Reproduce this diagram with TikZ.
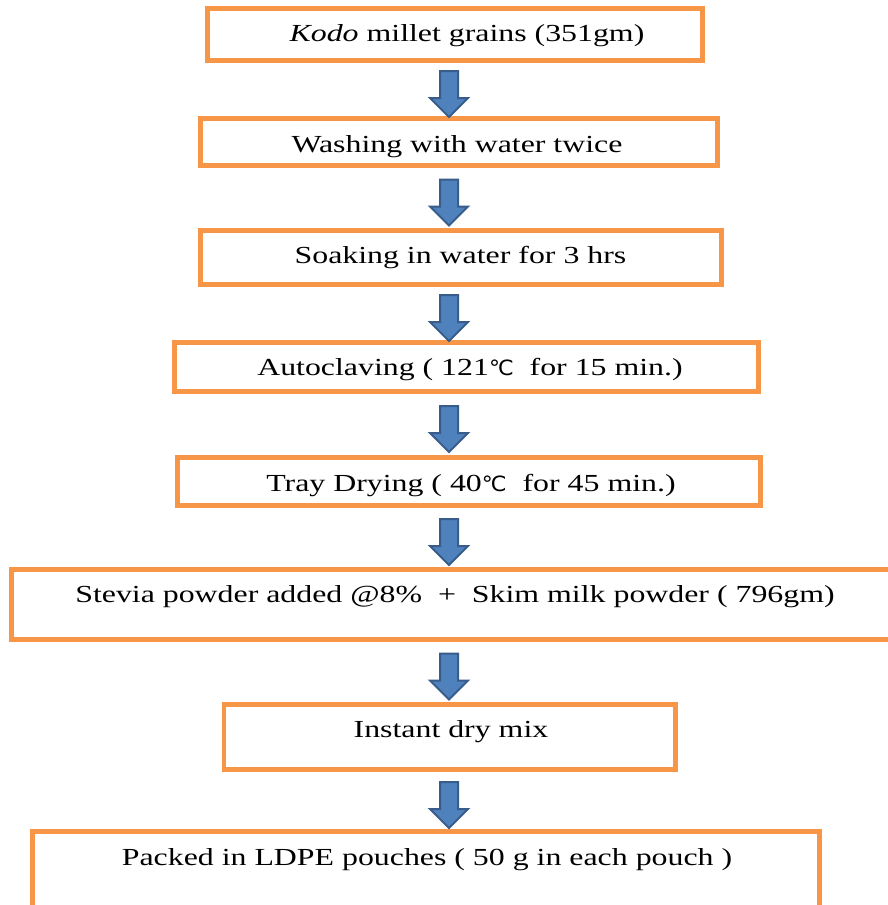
\documentclass[tikz,border=0pt]{standalone}
\usepackage{fontspec}
\setmainfont{Liberation Serif}[FakeStretch=1.3]
\newfontfamily\symfont{DejaVu Sans}[FakeStretch=1.05]
\usetikzlibrary{shapes.arrows,calc}
\definecolor{boxorange}{HTML}{F79646}
\definecolor{arrowfill}{HTML}{4F81BD}
\definecolor{arrowline}{HTML}{385D8A}
\newcommand{\degc}{{\symfont\fontsize{21}{24}\selectfont ℃}}
\begin{document}
\begin{tikzpicture}[x=1pt,y=-1pt,
  stepbox/.style={draw=boxorange, line width=4.5pt, fill=white, rectangle, inner sep=0pt},
  steptext/.style={anchor=base, inner sep=0pt, font=\fontsize{24.5}{28}\selectfont},
  blockarrow/.style={single arrow, draw=arrowline, fill=arrowfill, line width=2pt,
    rotate=-90, minimum height=46pt, minimum width=0pt, inner xsep=0pt, inner ysep=8pt,
    single arrow head extend=10pt}]
\fill[white] (0,0) rectangle (887,905);
\useasboundingbox (0,0) rectangle (887,905);
% boxes
\node[stepbox, minimum width=495pt, minimum height=52pt] (b1) at (455,34.5) {};
\node[stepbox, minimum width=517pt, minimum height=47pt] (b2) at (459,142) {};
\node[stepbox, minimum width=521pt, minimum height=54pt] (b3) at (461,257.5) {};
\node[stepbox, minimum width=584pt, minimum height=49pt] (b4) at (466.5,367) {};
\node[stepbox, minimum width=583pt, minimum height=48pt] (b5) at (469,481.5) {};
\node[stepbox, minimum width=883.5pt, minimum height=70pt] (b6) at (453.25,604.5) {};
\node[stepbox, minimum width=451.5pt, minimum height=65pt] (b7) at (449.75,737) {};
\node[stepbox, minimum width=787pt, minimum height=80.5pt] (b8) at (426,871.75) {};
% texts
\node[steptext] (t1) at (467,41) {\textit{Kodo} millet grains (351gm)};
\node[steptext] (t2) at (457,152) {Washing with water twice};
\node[steptext] (t3) at (460.5,263) {Soaking in water for 3 hrs};
\node[steptext] (t4) at (470,375) {Autoclaving ( 121\degc\ \ for 15 min.)};
\node[steptext] (t5) at (471,491) {Tray Drying ( 40\degc\ \ for 45 min.)};
\node[steptext] (t6) at (455,602) {Stevia powder added @8\%\ \ +\ \ Skim milk powder ( 796gm)};
\node[steptext] (t7) at (451,737) {Instant dry mix};
\node[steptext] (t8) at (427,865) {Packed in LDPE pouches ( 50 g in each pouch )};
% arrows
\coordinate (axis) at (449,0);
\node[blockarrow] (a1) at (axis |- {$(b1.south)!0.5!(b2.north)$}) {};
\node[blockarrow] (a2) at (axis |- {$(b2.south)!0.5!(b3.north)$}) {};
\node[blockarrow] (a3) at (axis |- {$(b3.south)!0.5!(b4.north)$}) {};
\node[blockarrow] (a4) at (axis |- {$(b4.south)!0.5!(b5.north)$}) {};
\node[blockarrow] (a5) at (axis |- {$(b5.south)!0.5!(b6.north)$}) {};
\node[blockarrow] (a6) at (axis |- {$(b6.south)!0.5!(b7.north)$}) {};
\node[blockarrow] (a7) at (axis |- {$(b7.south)!0.5!(b8.north)$}) {};
\end{tikzpicture}
\end{document}
